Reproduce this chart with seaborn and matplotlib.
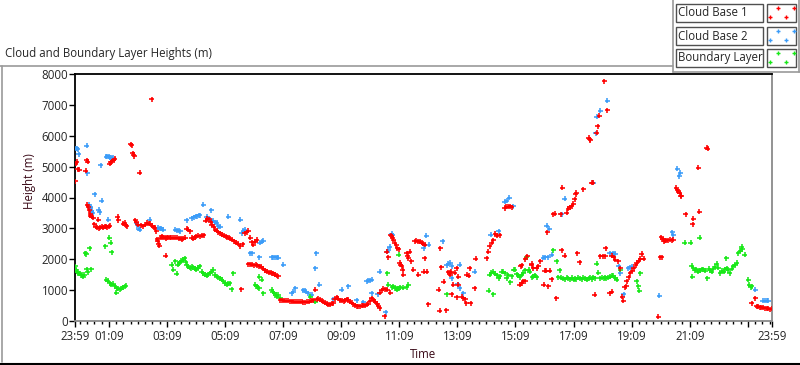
import matplotlib
matplotlib.use('Agg')
import matplotlib.pyplot as plt
import seaborn as sns
import pandas as pd
from matplotlib.lines import Line2D
from matplotlib.patches import Rectangle

sns.set_style('white')
plt.rcParams['font.family'] = ['Open Sans', 'DejaVu Sans']

# minutes after 23:59, height in metres
cloud_base_1 = [
    (0, 4530), (2, 5100), (4, 5150), (6, 4910), (9, 4900), (22, 4870), (24, 5200), (26, 5150),
    (25, 3760), (27, 3700), (29, 3580), (31, 3480), (32, 3410), (35, 3370), (38, 3340), (40, 3140),
    (43, 3060), (46, 3020), (49, 3000), (52, 3040), (55, 3060), (58, 3020), (61, 3050), (64, 3070),
    (67, 3040), (70, 3060), (72, 3080), (48, 3280),
    (72, 5100), (74, 5140), (77, 5170), (80, 5200), (82, 5250),
    (88, 3370), (89, 3260), (100, 3150), (103, 3180), (105, 3100), (107, 3070),
    (115, 5720), (117, 5700), (119, 5430), (121, 5380), (122, 5340), (134, 4800),
    (124, 3260), (127, 3200), (131, 3120), (136, 3100), (141, 3070), (145, 3120), (149, 3180),
    (152, 3150), (155, 3150), (159, 7190), (160, 3080), (163, 3040), (165, 3015), (168, 2900),
    (170, 2650), (171, 2580), (173, 2500), (174, 2440), (177, 2700), (179, 2740), (182, 2720),
    (185, 2700), (188, 2680), (190, 2700), (193, 2720), (196, 2690), (199, 2700), (202, 2700),
    (187, 2120), (206, 2690), (210, 2690), (214, 2680), (218, 2660), (221, 2650), (224, 2660),
    (228, 2700), (231, 2980), (234, 2950), (238, 2900), (241, 2700), (244, 2660), (248, 2720),
    (251, 2740), (255, 2760), (259, 2740), (262, 2760), (266, 2780), (270, 3250), (273, 3310),
    (277, 3290), (280, 3200), (283, 3120), (287, 3050), (290, 2960), (293, 2920), (296, 2880),
    (300, 2850), (304, 2800), (307, 2760), (311, 2740), (314, 2720), (318, 2700), (321, 2670),
    (325, 2630), (329, 2590), (333, 2540), (337, 2500), (341, 2420), (343, 1030), (347, 2480),
    (351, 2850), (355, 2880), (358, 2930), (362, 2700), (365, 2550), (368, 2470), (372, 2560),
    (375, 2630),
    (358, 1840), (362, 1840), (366, 1820), (369, 1810), (373, 1820), (377, 1800), (381, 1770),
    (385, 1750), (389, 1700), (393, 1640), (396, 1600), (400, 1580), (404, 1560), (407, 1550),
    (410, 1550), (414, 1500), (417, 1470), (420, 1450),
    (424, 680), (428, 670), (432, 660), (436, 660), (440, 650), (444, 640), (448, 640), (452, 630),
    (456, 630), (460, 630), (464, 630), (468, 620), (472, 610), (476, 600), (480, 620), (484, 630),
    (488, 650), (492, 680), (496, 1010), (499, 700), (503, 720), (506, 690), (510, 650), (513, 630),
    (517, 590), (520, 560), (523, 520), (527, 540), (530, 560), (534, 570), (537, 700), (541, 770),
    (544, 720), (548, 680), (551, 650), (555, 640), (558, 680), (561, 700), (565, 690), (568, 630),
    (572, 590), (575, 550), (579, 510), (582, 480), (585, 470), (589, 480), (592, 490), (596, 500),
    (599, 510), (603, 520), (606, 560), (610, 650), (613, 740), (617, 680), (620, 630), (624, 560),
    (627, 490), (630, 410), (630, 920), (634, 1000), (637, 1050), (640, 160), (641, 1030),
    (645, 1010), (651, 920),
    (644, 2250), (647, 2070), (652, 2780), (654, 2740), (656, 2680), (658, 2630), (661, 2540),
    (664, 2450), (666, 2360), (669, 2330), (671, 1880), (673, 1820), (675, 1770), (677, 1660),
    (678, 1500), (685, 2200), (687, 2120), (689, 2040), (692, 2250), (695, 1930), (699, 1660),
    (702, 2580), (705, 2600), (709, 2580), (712, 2560), (716, 2540), (719, 2500), (723, 2470),
    (709, 1500), (720, 1600), (723, 2040), (727, 1600), (730, 540),
    (751, 1010), (754, 330), (755, 2360), (757, 1740), (762, 1270), (767, 350), (771, 1580),
    (774, 1560), (777, 1590), (775, 1500), (781, 1170), (785, 1560), (778, 870), (789, 1710),
    (789, 770), (792, 1440), (792, 1170), (799, 790), (802, 740), (806, 700), (808, 570),
    (809, 1500), (813, 1460), (816, 1710), (818, 570), (826, 1060), (828, 2010),
    (851, 2040), (854, 2250), (857, 2420), (861, 2530), (864, 2620), (868, 2820), (871, 2760),
    (878, 2770), (888, 3660), (891, 3700), (895, 3700), (899, 3720), (902, 3680),
    (919, 1170), (921, 1770), (923, 1810), (923, 1230), (926, 1280), (930, 1280), (930, 2000),
    (934, 2090), (944, 1810), (944, 1850), (947, 1710), (954, 1710), (957, 1770), (961, 1930),
    (968, 1170), (971, 1630), (974, 1630), (976, 2870), (978, 1120), (981, 1630), (985, 1360),
    (988, 3450), (991, 3480), (994, 740), (1004, 3450), (1006, 2290), (1007, 4320), (1012, 2110),
    (1016, 3500), (1019, 3630), (1022, 3680), (1026, 3720), (1029, 3800), (1032, 3950),
    (1035, 4100), (1036, 4150), (1038, 2200), (1043, 1900), (1050, 4260), (1061, 5940),
    (1063, 5880), (1065, 5860), (1068, 4480), (1070, 4480), (1074, 850), (1078, 6100),
    (1080, 6300), (1083, 6640), (1085, 2090), (1090, 2090), (1093, 7760), (1095, 2100),
    (1097, 2360), (1100, 6820), (1105, 900), (1109, 950), (1109, 2110), (1113, 2060), (1116, 1980),
    (1122, 1930), (1126, 1710), (1131, 790), (1133, 660), (1136, 1100), (1139, 1120), (1140, 1280),
    (1144, 1420), (1147, 1550), (1151, 1620), (1154, 1710), (1158, 1800), (1161, 1880),
    (1165, 1950), (1168, 2010), (1171, 2170), (1175, 2010),
    (1205, 140), (1209, 2070), (1212, 2060), (1211, 2710), (1214, 2650), (1216, 2580),
    (1219, 2600), (1222, 2620), (1226, 2620), (1229, 2630), (1233, 2620), (1236, 2630),
    (1242, 4320), (1244, 4240), (1246, 4200), (1249, 4130), (1251, 4060), (1253, 4040),
    (1262, 3450), (1276, 3140), (1277, 3310), (1288, 4960), (1290, 3540), (1305, 5610), (1307, 5580),
    (1398, 570), (1405, 740), (1408, 470), (1411, 460), (1415, 450), (1418, 440), (1422, 430),
    (1425, 420), (1429, 410), (1432, 390), (1436, 380), (1439, 400),
]

cloud_base_2 = [
    (2, 5580), (4, 5600), (6, 5560), (8, 5400), (24, 5670), (25, 4780), (29, 3770), (31, 3700),
    (33, 3650), (35, 3560), (37, 3500), (41, 4100), (49, 3600), (51, 3520), (53, 5040), (55, 3900),
    (65, 5320), (67, 5340), (69, 3280), (71, 5330), (73, 5290), (76, 5260), (79, 5280),
    (127, 3190), (129, 3100), (132, 2980), (134, 2960), (154, 3280), (172, 3020), (175, 2980),
    (178, 3000), (182, 2960), (207, 2960), (210, 2940), (214, 2920), (217, 2900), (231, 3260),
    (241, 3330), (245, 3360), (249, 3390), (252, 3400), (256, 3420), (258, 3420), (265, 3770),
    (272, 3370), (276, 3320), (279, 3280), (282, 3580), (286, 3250), (290, 3200), (293, 3180),
    (296, 3070), (300, 3060), (317, 3370), (341, 3280), (344, 2850), (348, 2920), (351, 2960),
    (362, 2200), (366, 2200), (381, 2060), (382, 2530), (386, 2570), (389, 2600), (406, 2060),
    (410, 2070), (413, 2060), (417, 2060), (420, 2050), (430, 1820), (448, 900), (451, 950),
    (455, 1060), (472, 1000), (475, 980), (478, 940), (482, 900), (489, 850), (496, 1710),
    (498, 2200), (505, 1170), (534, 700), (551, 1010), (565, 1120), (582, 680), (596, 600),
    (603, 1280), (606, 1300), (610, 1320), (613, 1330), (613, 900), (625, 870), (630, 1600),
    (642, 280), (645, 2250), (647, 2310), (650, 2400), (654, 2820), (656, 2780),
    (720, 2360), (726, 2760), (731, 2470), (760, 2580), (768, 1800), (771, 1850), (775, 1880),
    (778, 1770), (778, 1390), (791, 1190), (795, 1820), (795, 1060), (802, 900), (826, 1600),
    (859, 2800), (875, 2900), (888, 3860), (892, 3900), (897, 3990), (905, 3720),
    (967, 2050), (972, 2070), (975, 3090), (978, 2060), (980, 2980), (985, 2150), (1006, 3450),
    (1012, 3960), (1071, 4480), (1076, 6080), (1078, 6620), (1085, 6810), (1100, 7130),
    (1105, 2200), (1112, 2190), (1116, 2170), (1123, 1770), (1126, 1550), (1134, 870),
    (1143, 1710), (1147, 1740), (1150, 1760),
    (1207, 820), (1234, 2870), (1236, 2770), (1244, 4930), (1248, 4690), (1250, 4800),
    (1405, 1010), (1421, 660), (1425, 660), (1429, 660), (1432, 660),
]

boundary_layer = [
    (0, 1770), (2, 1650), (3, 1660), (5, 1600), (7, 1550), (10, 1530), (12, 1480), (14, 1500),
    (17, 1440), (19, 1500), (21, 2200), (23, 2170), (24, 1680), (26, 1580), (30, 2360), (34, 1680),
    (63, 2420), (65, 1330), (68, 1300), (71, 2690), (72, 1230), (74, 2530), (75, 1180), (76, 2230),
    (79, 1200), (82, 1130), (85, 920), (86, 1060), (89, 1050), (93, 1030), (96, 1050), (100, 1100),
    (103, 1120), (105, 1140),
    (200, 1820), (203, 1660), (207, 1930), (210, 1530), (212, 1820), (215, 1870), (217, 1900),
    (220, 1950), (224, 1980), (227, 2040), (229, 1900), (231, 1820), (234, 1760), (237, 1730),
    (239, 1710), (242, 1760), (244, 1740), (247, 1700), (251, 1660), (254, 1720), (258, 1770),
    (262, 1600), (265, 1550), (268, 1500), (272, 1460), (275, 1520), (279, 1550), (282, 1600),
    (286, 1660), (289, 1500), (293, 1440), (296, 1420), (300, 1390), (303, 1330), (306, 1280),
    (310, 1220), (313, 1170), (317, 1200), (320, 1230), (324, 1030), (327, 1550),
    (372, 1170), (375, 1120), (378, 1080), (381, 1060), (381, 1440), (386, 1330), (389, 900),
    (406, 1010), (409, 950), (412, 900), (415, 850), (417, 790), (420, 850), (424, 740),
    (486, 790), (496, 630),
    (645, 1550), (647, 1170), (655, 1100), (658, 1120), (661, 1060), (664, 1060), (666, 1010),
    (668, 1040), (669, 2150), (671, 1100), (678, 1080), (685, 1100), (689, 1170), (768, 870),
    (855, 975), (857, 1500), (860, 1560), (864, 1590), (864, 870), (868, 1530), (871, 1480),
    (875, 1390), (878, 1450), (882, 1600), (885, 1600), (889, 1550), (892, 1390), (895, 1480),
    (899, 1250), (902, 1450), (906, 1660), (909, 1660), (913, 1520), (916, 1480), (919, 1420),
    (923, 1500), (926, 1560), (930, 1640), (933, 2060), (937, 1660), (940, 1600), (945, 1420),
    (947, 1440), (950, 1480), (954, 1420),
    (988, 2290), (995, 1930), (998, 1420), (1002, 1640), (1005, 1400), (1009, 1370), (1012, 1350),
    (1016, 1400), (1019, 1380), (1023, 1350), (1026, 1400), (1030, 1330), (1033, 1380),
    (1036, 1360), (1040, 1400), (1043, 1380), (1047, 1350), (1050, 1400), (1054, 1380),
    (1057, 1330), (1061, 1380), (1064, 1400), (1068, 1360), (1071, 1420), (1075, 1380),
    (1078, 1850), (1081, 1570), (1085, 1390), (1088, 1400), (1092, 1380), (1095, 1420),
    (1098, 1390), (1102, 1400), (1105, 1440), (1109, 1460), (1112, 1460), (1116, 1400),
    (1119, 1330), (1126, 1660), (1161, 1280), (1164, 1120), (1166, 975), (1168, 1550),
    (1260, 2530), (1272, 2530), (1274, 1790), (1275, 1440), (1277, 1710), (1281, 1650),
    (1284, 1680), (1288, 1600), (1291, 1640), (1291, 2690), (1295, 1680), (1298, 1670),
    (1302, 1620), (1306, 1390), (1309, 1700), (1312, 1650), (1316, 1600), (1319, 1700),
    (1323, 1750), (1326, 1850), (1329, 1720), (1333, 1550), (1336, 1620), (1340, 1600),
    (1343, 1680), (1345, 2040), (1347, 1710), (1350, 1640), (1353, 1550), (1357, 1700),
    (1360, 1770), (1364, 1800), (1367, 1880), (1370, 2200), (1374, 2280), (1377, 2400),
    (1379, 2330), (1384, 2150), (1391, 1330), (1393, 1170), (1396, 1100), (1398, 1120),
]

series_names = ['Cloud Base 1', 'Cloud Base 2', 'Boundary Layer']
series_colors = {'Cloud Base 1': '#ff0000', 'Cloud Base 2': '#3c9cf8', 'Boundary Layer': '#18e818'}

tick_minutes = [0, 70, 190, 310, 430, 550, 670, 790, 910, 1030, 1150, 1270, 1390, 1440]
tick_labels = ['23:59', '01:09', '03:09', '05:09', '07:09', '09:09', '11:09', '13:09',
               '15:09', '17:09', '19:09', '21:09', '', '23:59']
y_ticks = [0, 1000, 2000, 3000, 4000, 5000, 6000, 7000, 8000]

W, H = 800, 365
FS = 8.3


def px(x, y):
    return x / W, 1 - y / H


rows = []
for name, pts in [('Cloud Base 2', cloud_base_2), ('Boundary Layer', boundary_layer),
                  ('Cloud Base 1', cloud_base_1)]:
    for t, h in pts:
        rows.append({'series': name, 'minute': t, 'height': h})
df = pd.DataFrame(rows)

fig = plt.figure(figsize=(W / 100, H / 100), dpi=100, facecolor='white')
ax = fig.add_axes([75 / W, (H - 321) / H, 697 / W, 247 / H])

sns.scatterplot(data=df, x='minute', y='height', hue='series', palette=series_colors,
                marker='+', s=13, linewidth=1.15, legend=False, ax=ax, zorder=3)

ax.set_xlim(0, 1440)
ax.set_ylim(0, 8000)
ax.set_xticks(tick_minutes)
ax.set_xticklabels(tick_labels)
ax.set_xticks(list(range(10, 1440, 15)), minor=True)
ax.set_yticks(y_ticks)
ax.set_yticklabels([str(v) for v in y_ticks])
ax.tick_params(axis='both', which='major', direction='out', length=4, width=1,
               color='black', labelsize=FS, pad=1)
ax.tick_params(axis='x', which='minor', direction='out', length=2.5, width=1, color='black')
ax.tick_params(axis='x', which='major', length=4.5, pad=2)
ax.tick_params(axis='y', left=True)
ax.tick_params(axis='x', bottom=True, which='both')
ax.set_xlabel('')
ax.set_ylabel('')
for side in ['left', 'top']:
    ax.spines[side].set_color('black')
for side in ['right', 'bottom']:
    ax.spines[side].set_color('#8a8a8a')
for s in ax.spines.values():
    s.set_linewidth(1.3)
    s.set_visible(True)

# labels
fig.text(*px(5, 53), 'Cloud and Boundary Layer Heights (m)', fontsize=FS, va='center', ha='left')
fig.text(*px(30, 181), 'Height (m)', fontsize=FS, rotation=90, va='center', ha='center',
         color='#3a0a18')
fig.text(*px(423, 354), 'Time', fontsize=FS, va='center', ha='center', color='#3a0a18')

# panel frame
def hline(x0, x1, y, color, lw=1.2):
    fig.add_artist(Line2D([x0 / W, x1 / W], [1 - y / H, 1 - y / H], color=color, lw=lw))


def vline(x, y0, y1, color, lw=1.2):
    fig.add_artist(Line2D([x / W, x / W], [1 - y0 / H, 1 - y1 / H], color=color, lw=lw))


hline(0, 673, 66, '#9a9a9a')
vline(1.5, 66, 362, '#9a9a9a')
hline(0, 800, 363.5, 'black', 1.5)
vline(673, 0, 72, '#9a9a9a')
hline(673, 800, 72, '#9a9a9a')
vline(799, 0, 72, '#9a9a9a')

# legend
row_tops = [4, 27, 49]
for name, top in zip(series_names, row_tops):
    x0, y0 = px(676, top + 18)
    fig.add_artist(Rectangle((x0, y0), 87 / W, 18 / H, transform=fig.transFigure,
                             facecolor='white', edgecolor='#505050', lw=1))
    fig.text(*px(678, top + 9), name, fontsize=FS, va='center', ha='left')
    sx, sy = px(767, top + 18)
    fig.add_artist(Rectangle((sx, sy), 29 / W, 18 / H, transform=fig.transFigure,
                             facecolor='white', edgecolor='#505050', lw=1))
    for mx, my in [(778, top + 4), (794, top + 4), (770, top + 13), (786, top + 13)]:
        fig.add_artist(Line2D([mx / W], [1 - my / H], marker='+', ms=3.5, mew=1.0,
                              color=series_colors[name], linestyle='none'))

fig.savefig('out.png', dpi=100, facecolor='white')
